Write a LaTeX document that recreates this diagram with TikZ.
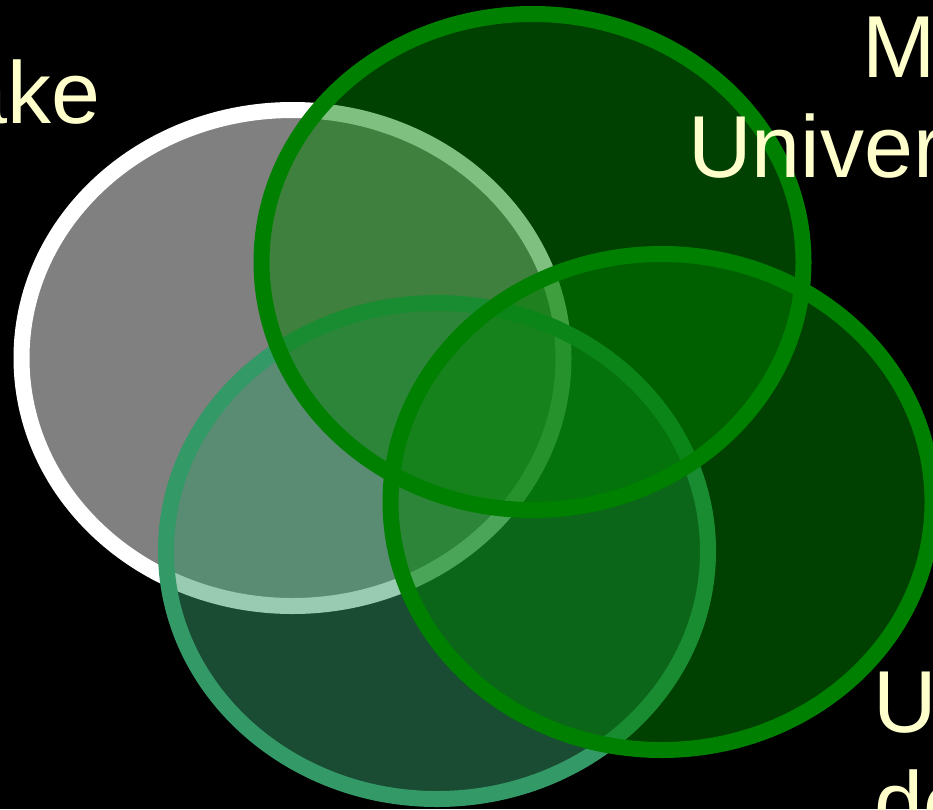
\documentclass[tikz,border=0pt]{standalone}
\usepackage{fontspec}
\setmainfont{Liberation Sans}
\definecolor{vnwhite}{RGB}{255,255,255}
\definecolor{vngrey}{RGB}{128,128,128}
\definecolor{vngreen}{RGB}{0,128,0}
\definecolor{vnteal}{RGB}{51,153,102}
\definecolor{vntext}{RGB}{255,255,204}
\usetikzlibrary{shapes.geometric}

\tikzset{
  venn/.style={ellipse, inner sep=0pt, minimum width=542pt, minimum height=496pt, line width=16pt},
  vlabel/.style={inner sep=0pt, text=vntext, font=\fontsize{88}{100}\selectfont}
}

\begin{document}
\begin{tikzpicture}[x=1pt, y=-1pt]
  % Frame and background
  \useasboundingbox (0,0) rectangle (933,809);
  \fill[black] (0,0) rectangle (933,809);
  \clip (0,0) rectangle (933,809);
  % Circles
  \node[venn, draw=vnwhite, fill=vngrey] (grey) at (292.5,358) {};
  \node[venn, draw=vnteal, fill=vnteal, fill opacity=0.5] (lower) at (437,551) {};
  \node[venn, draw=vngreen, fill=vngreen, fill opacity=0.5] (upper) at (532.5,262) {};
  \node[venn, draw=vngreen, fill=vngreen, fill opacity=0.5] (right) at (661.5,502) {};
  % Labels
  \node[vlabel, anchor=base east] (make) at (101,123) {ake};
  \node[vlabel, anchor=base west] (mtop) at (862,77) {M};
  \node[vlabel, anchor=base west] (univ) at (688,177) {Univer};
  \node[vlabel, anchor=base west] (ubot) at (873,732) {U};
  \node[vlabel, anchor=base west] (debot) at (874,833) {de};
\end{tikzpicture}
\end{document}
